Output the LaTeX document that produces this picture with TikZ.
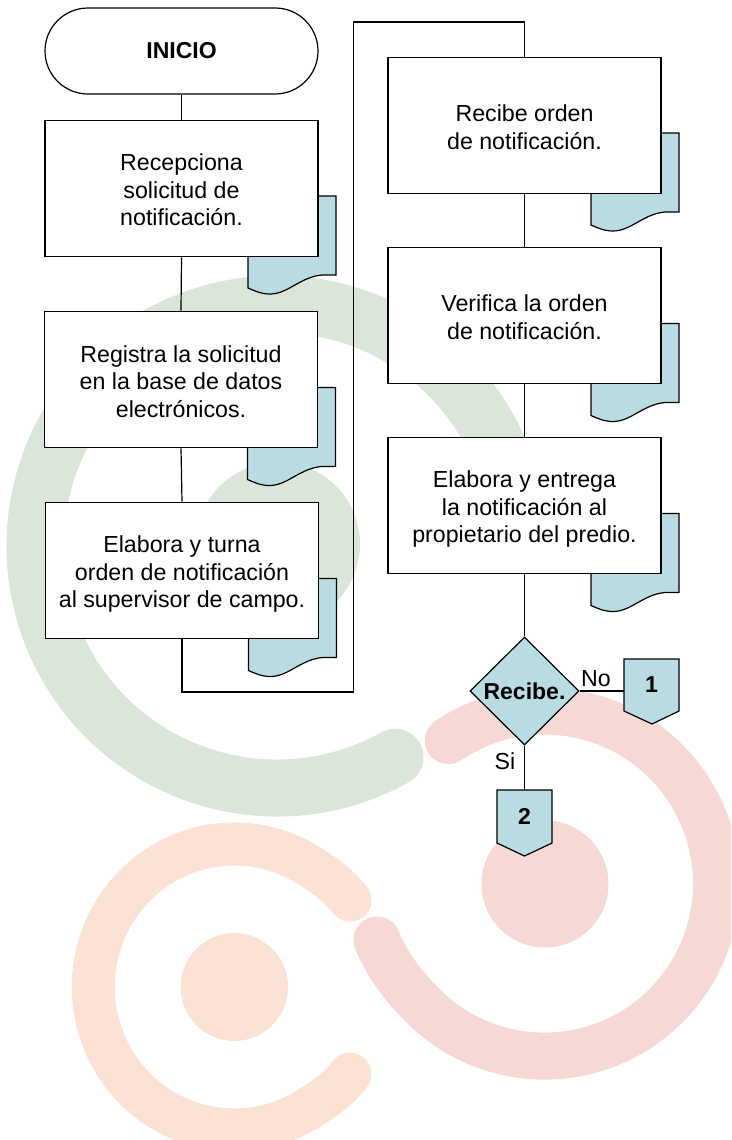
\documentclass[tikz,border=0pt]{standalone}
\usepackage{fontspec}
\setmainfont{Liberation Sans}
\usetikzlibrary{shapes.geometric}
\definecolor{ringgreen}{HTML}{D9E6D9}
\definecolor{ringred}{HTML}{F6D9D4}
\definecolor{ringorange}{HTML}{FCE2D4}
\definecolor{docblue}{HTML}{B8DCE2}
\tikzset{
  txt/.style={font=\fontsize{23.2}{27.5}\selectfont,align=center,text=black},
  boldtxt/.style={font=\fontsize{23}{27.5}\selectfont\bfseries,align=center,text=black},
  procbox/.style={txt,draw=black,fill=white,line width=1.2pt,rectangle,minimum width=273pt,minimum height=136.5pt,inner sep=0pt},
  termbox/.style={boldtxt,draw=black,fill=white,line width=1.2pt,rectangle,rounded corners=43pt,minimum width=273pt,minimum height=86pt,inner sep=0pt},
  decbox/.style={boldtxt,draw=black,fill=docblue,line width=1.2pt,diamond,aspect=1,minimum width=109pt,minimum height=108pt,inner sep=0pt},
  docshape/.style={draw=black,fill=docblue,line width=1.2pt,line join=miter},
  offpage/.style={draw=black,fill=docblue,line width=1.2pt},
  conn/.style={draw=black,line width=1.2pt},
  ring/.style={line cap=round,line join=round,fill=none}
}
\newcommand{\docat}[2]{%
  \path[docshape] (#1+203,#2+76) -- (#1+291,#2+76) -- (#1+291,#2+155) -- (#1+277,#2+155)
    .. controls (#1+255,#2+157) and (#1+243,#2+174) .. (#1+225,#2+174)
    .. controls (#1+216,#2+174) and (#1+210,#2+171) .. (#1+203,#2+168) -- cycle;}
\newcommand{\nudge}[1]{\rule{0pt}{#1pt}}
\begin{document}
\begin{tikzpicture}[x=1pt,y=-1pt]
\path[use as bounding box] (0,0) rectangle (731,1140);
\begin{scope}
\clip (0,0) rectangle (731,1140);
\coordinate (gc) at (277,546);
\coordinate (rc) at (545,884);
\coordinate (oc) at (234.3,987);
\fill[ringgreen] (278,544) circle[radius=82pt];
\draw[ring,ringgreen,line width=57pt] (gc) ++(-60.8:242pt) arc[start angle=-60.8,end angle=-350,radius=242pt];
\fill[ringred] (rc) circle[radius=63.5pt];
\draw[ring,ringred,line width=47pt] (rc) ++(124:173pt) arc[start angle=124,end angle=-135,x radius=172pt,y radius=172.5pt]
  .. controls (400,983) and (385,960) .. (377,940);
\fill[ringorange] (oc) ellipse[x radius=53.7pt,y radius=54pt];
\draw[ring,ringorange,line width=43pt] (350,900) .. controls (340,887) and (325,875) .. ([shift={(oc)}] 60:141pt and 143pt)
  arc[start angle=60,end angle=300,x radius=141pt,y radius=143pt]
  .. controls (325,1099) and (340,1087) .. (350,1074);
\end{scope}
% document shapes
\docat{45}{120}
\docat{44.5}{311.5}
\docat{45.5}{502.5}
\docat{388}{57}
\docat{388}{247.5}
\docat{388}{437.5}
% boxes
\node[termbox] (start) at (181.5,51) {INICIO};
\node[procbox] (b1) at (181.5,188.5) {\nudge{20}Recepciona\\solicitud de\\notificación.};
\node[procbox] (b2) at (181,379.5) {\nudge{21}Registra la solicitud\\en la base de datos\\electrónicos.};
\node[procbox] (b3) at (182,570.5) {\nudge{24}Elabora y turna\\orden de notificación\\al supervisor de campo.};
\node[procbox] (r1) at (524.5,125.5) {\nudge{20}Recibe orden\\de notificación.};
\node[procbox] (r2) at (524.5,315.5) {\nudge{20}Verifica la orden\\de notificación.};
\node[procbox] (r3) at (524.5,505.5) {\nudge{24}Elabora y entrega\\la notificación al\\propietario del predio.};
\node[decbox] (dec) at (524.5,691) {Recibe.};
% off-page connectors
\path[offpage] (624,659) -- (679,659) -- (679,711) -- (652,724) -- (624,711) -- cycle;
\path[offpage] (497,790) -- (552,790) -- (552,843) -- (524.5,856) -- (497,843) -- cycle;
\node[boldtxt,minimum width=55pt,minimum height=52pt,inner sep=0pt] (p1) at (651.5,685) {1};
\node[boldtxt,minimum width=55pt,minimum height=53pt,inner sep=0pt] (p2) at (524.5,816.5) {2};
% connectors
\coordinate (l1) at (353.5,692);
\coordinate (l2) at (353.5,22);
\draw[conn] (start.south) -- (b1.north);
\draw[conn] (b1.south) -- (b2.north);
\draw[conn] (b2.south) -- (b3.north);
\draw[conn] (b3.south) |- (l1) -- (l2) -| (r1.north);
\draw[conn] (r1.south) -- (r2.north);
\draw[conn] (r2.south) -- (r3.north);
\draw[conn] (r3.south) -- (dec.north);
\draw[conn] (dec.east) -- (p1.west |- dec.east);
\draw[conn] (dec.south) -- (p2.north);
\node[txt] (no) at (596,679) {No};
\node[txt] (si) at (505,761) {Si};
\end{tikzpicture}
\end{document}
